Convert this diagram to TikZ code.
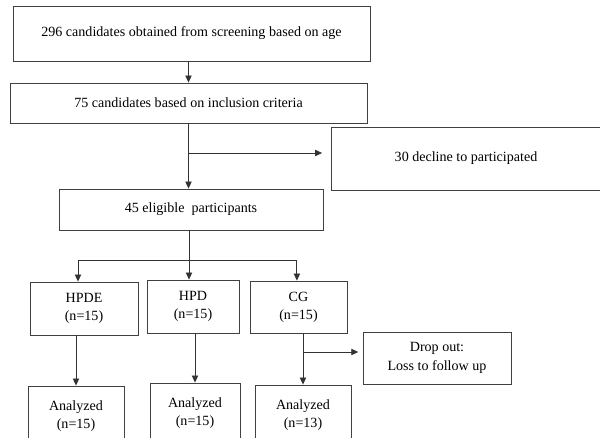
\documentclass[tikz,border=0pt]{standalone}
\usepackage{fontspec}
\setmainfont{Liberation Serif}
\usepackage{tikz}
\usetikzlibrary{arrows.meta,positioning,calc}

\begin{document}
\begin{tikzpicture}[x=0.025cm, y=-0.025cm,
    box/.style={draw=black!75, line width=0.6pt, align=center, inner sep=0pt,
      font=\fontsize{10}{13}\selectfont},
    arr/.style={draw=black!80, line width=0.6pt, -{Triangle[length=5pt,width=4.5pt]}},
    link/.style={draw=black!80, line width=0.6pt}]
    \useasboundingbox (0,0) rectangle (600,438);
    % Enrolment
    \node[box, minimum width=8.925cm, minimum height=1.375cm] (screen) at (191.5,33.5)
      {296 candidates obtained from screening based on age};
    \node[box, minimum width=8.925cm, minimum height=1cm] (incl) at (188.5,103)
      {75 candidates based on inclusion criteria};
    \node[box, minimum width=6.75cm, minimum height=1.575cm] (decline) at (466,158.5)
      {30 decline to participated};
    \node[box, minimum width=6.6cm, minimum height=1.025cm] (elig) at (191,209.5)
      {45 eligible\ \ participants};
    \draw[arr] (screen.south -| incl.north) -- (incl.north);
    \draw[arr] (incl.south) -- (incl.south |- elig.north);
    \coordinate (split) at (189,153);
    \draw[arr, shorten >=6pt] (split) -- (split -| decline.west);
    % Allocation
    \node[box, minimum width=2.7cm, minimum height=1.325cm] (hpde) at (84,308.5) {HPDE\\(n=15)};
    \node[box, minimum width=2.3cm, minimum height=1.325cm] (hpd) at (193,306.5) {HPD\\(n=15)};
    \node[box, minimum width=2.425cm, minimum height=1.3cm] (cg) at (298.5,307) {CG\\(n=15)};
    \coordinate (hub) at (189,260);
    \draw[link] (elig.south -| hub) -- (hub);
    \draw[arr] (hub) -| ([xshift=-0.15cm]hpde.north);
    \draw[arr] (hub) -- (hub |- hpd.north);
    \draw[arr] (hub) -| ([xshift=-0.04cm]cg.north);
    % Follow-up
    \node[box, minimum width=3.7cm, minimum height=1.3cm] (drop) at (437,358)
      {Drop out:\\Loss to follow up};
    \node[box, minimum width=2.4cm, minimum height=1.5cm] (ana1) at (76,416) {Analyzed\\(n=15)};
    \node[box, minimum width=2.25cm, minimum height=1.5cm] (ana2) at (195,413) {Analyzed\\(n=15)};
    \node[box, minimum width=2.4cm, minimum height=1.5cm] (ana3) at (303,415) {Analyzed\\(n=13)};
    \draw[arr] (ana1.north |- hpde.south) -- (ana1.north);
    \draw[arr] (ana2.north |- hpd.south) -- (ana2.north);
    \draw[arr] (ana3.north |- cg.south) -- (ana3.north);
    \coordinate (leave) at (303,352);
    \draw[arr, shorten >=3pt] (leave) -- (leave -| drop.west);
\end{tikzpicture}
\end{document}
